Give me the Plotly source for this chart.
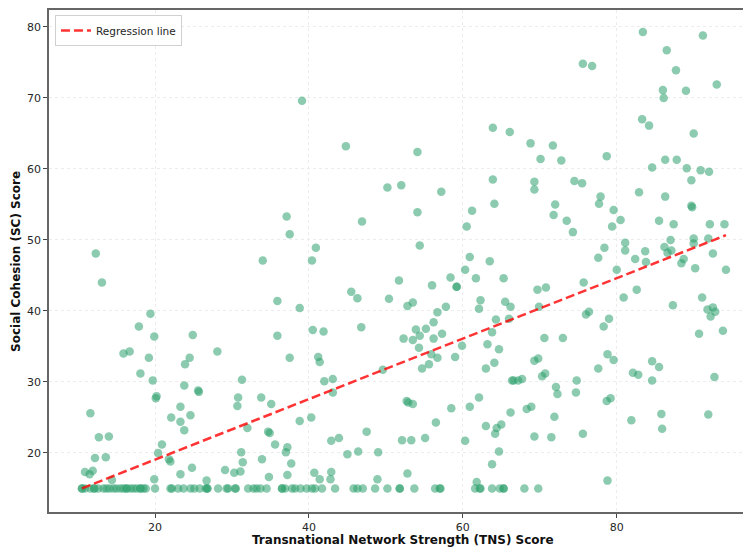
import plotly.graph_objects as go

# (TNS score, SC score) pairs, grouped by region
upper_left = [
    (39.1, 69.6), (44.8, 63.2), (50.2, 57.4), (37.1, 53.3), (37.5, 50.8),
    (46.9, 52.6), (40.9, 48.9),
]

upper_right = [
    (52.0, 57.7), (54.1, 62.4), (57.2, 56.8), (54.1, 53.9), (54.4, 49.2),
    (63.9, 65.8), (66.1, 65.2), (68.8, 63.6), (71.7, 63.3), (70.1, 61.4),
    (72.8, 61.2), (63.9, 58.5), (64.1, 55.1), (69.3, 58.2), (69.3, 57.1),
    (74.5, 58.3), (75.5, 58.0), (78.7, 61.8), (61.2, 54.1), (60.5, 51.9),
    (72.0, 55.0), (71.8, 53.5), (73.5, 52.7), (74.3, 51.1), (77.9, 56.1),
    (77.7, 55.1), (79.6, 54.2), (80.5, 52.8), (79.4, 51.9), (75.6, 74.8),
    (76.8, 74.5), (83.4, 79.3), (91.2, 78.8), (86.5, 76.7), (87.7, 73.9),
    (86.0, 71.1), (86.1, 70.0), (89.0, 71.0), (93.0, 71.9), (83.3, 67.0),
    (84.2, 66.1), (90.0, 65.0), (84.6, 60.2), (86.3, 61.3), (87.8, 61.3),
    (89.1, 60.1), (90.9, 59.8), (92.0, 59.6), (89.7, 58.4), (82.9, 56.7),
    (86.3, 56.1), (89.7, 54.8), (89.8, 54.6), (85.5, 52.7), (87.4, 52.2),
    (92.1, 52.2), (94.0, 52.2), (81.1, 49.6), (81.1, 48.5), (78.4, 48.9),
    (83.7, 48.4), (87.0, 50.0), (90.0, 50.2), (90.0, 49.5), (91.9, 50.2),
    (86.2, 49.0), (87.1, 48.5),
]

lower_left = [
    (12.3, 48.1), (13.1, 44.0), (19.4, 39.6), (17.9, 37.8), (19.9, 36.4),
    (15.9, 34.0), (16.7, 34.3), (19.2, 33.4), (18.1, 31.2), (19.7, 30.2),
    (20.2, 28.0), (20.1, 27.7), (11.6, 25.6), (12.7, 22.2), (14.0, 22.3),
    (12.2, 19.3), (13.6, 19.4), (10.9, 17.3), (11.5, 17.0), (11.9, 17.5),
    (14.4, 16.2), (20.9, 21.2), (20.4, 20.0), (21.8, 19.1), (22.0, 18.8),
    (19.9, 16.3), (24.8, 17.9), (23.3, 17.0), (26.7, 16.1), (24.9, 36.6),
    (24.5, 33.4), (23.9, 32.5), (23.8, 29.5), (25.6, 28.8), (25.7, 28.6),
    (22.1, 25.0), (23.3, 26.5), (24.6, 25.3), (23.3, 24.4), (23.8, 23.2),
    (28.1, 34.3), (31.3, 30.3), (30.8, 27.8), (30.7, 26.6), (32.0, 23.5),
    (31.2, 20.1), (31.4, 18.7), (29.1, 17.6), (30.3, 17.2), (31.1, 17.4),
    (34.0, 47.1), (35.9, 41.4), (35.9, 36.5), (37.5, 33.4), (38.8, 40.4),
    (33.8, 27.8), (35.1, 26.9), (34.7, 23.0), (34.9, 22.8), (35.6, 21.2),
    (37.0, 20.1), (37.2, 20.8), (33.9, 19.1), (37.7, 18.5), (34.8, 16.6),
    (37.2, 16.9), (38.8, 24.5), (40.3, 25.0), (40.4, 47.1), (40.5, 37.3),
    (41.9, 37.1), (41.2, 33.5), (41.4, 32.8), (42.0, 30.1), (43.1, 30.4),
    (43.1, 28.5), (42.9, 21.7), (43.9, 22.1), (40.7, 17.2), (41.4, 16.3),
    (42.9, 17.3), (42.8, 16.3), (45.0, 19.8), (46.4, 20.2), (45.5, 42.7),
    (46.3, 41.8), (46.8, 37.7), (50.4, 41.7), (49.6, 31.7), (47.5, 23.0),
    (49.0, 20.1), (48.9, 16.3),
]

lower_right = [
    (60.9, 47.6), (63.5, 47.0), (60.3, 45.8), (61.7, 44.6), (58.4, 44.7),
    (51.7, 44.3), (56.0, 43.6), (59.2, 43.4), (59.2, 43.4), (65.3, 44.6),
    (52.8, 40.7), (53.5, 41.2), (56.7, 39.8), (57.8, 40.6), (52.3, 36.1),
    (53.5, 35.9), (53.9, 37.4), (54.4, 36.5), (55.2, 37.5), (56.2, 38.4),
    (56.2, 36.1), (57.3, 36.8), (54.3, 34.8), (55.9, 33.9), (56.7, 33.4),
    (55.6, 32.5), (54.7, 31.9), (59.0, 33.5), (59.9, 35.1), (62.3, 41.5),
    (62.1, 40.3), (64.3, 38.8), (63.8, 37.0), (63.2, 35.3), (64.7, 34.6),
    (64.1, 32.7), (63.0, 31.9), (65.5, 41.3), (66.2, 40.6), (66.0, 38.9),
    (69.7, 43.0), (70.8, 43.3), (69.9, 40.6), (70.6, 36.2), (73.0, 36.2),
    (69.3, 33.0), (69.8, 33.3), (70.3, 30.8), (70.7, 31.2), (66.4, 30.2),
    (66.6, 30.2), (67.2, 30.2), (67.7, 30.4), (72.1, 29.3), (72.3, 28.3),
    (74.8, 30.2), (74.7, 28.5), (75.7, 44.0), (76.0, 39.5), (76.4, 39.9),
    (78.3, 37.8), (79.0, 38.9), (78.8, 33.9), (79.6, 33.1), (77.6, 31.9),
    (77.6, 47.5), (80.0, 45.8), (80.9, 41.9), (82.6, 43.0), (82.4, 47.3),
    (83.8, 46.9), (87.3, 40.8), (88.4, 46.7), (88.7, 47.3), (90.2, 46.0),
    (92.5, 48.1), (86.6, 48.2), (94.2, 45.8), (91.1, 41.9), (91.8, 40.2),
    (92.5, 40.5), (92.8, 39.9), (92.2, 39.2), (90.7, 36.8), (93.8, 37.2),
    (92.7, 30.7), (82.1, 31.3), (82.8, 31.0), (84.6, 32.9), (85.5, 32.1),
    (84.6, 30.2), (52.7, 27.3), (52.9, 27.1), (53.5, 26.9), (58.5, 26.3),
    (56.5, 24.3), (52.1, 21.8), (53.3, 21.8), (55.1, 22.1), (60.9, 26.5),
    (62.1, 27.8), (60.3, 21.7), (63.0, 23.8), (64.4, 23.5), (65.0, 24.0),
    (64.2, 22.7), (66.2, 25.7), (68.3, 26.2), (68.9, 26.5), (64.7, 20.2),
    (63.8, 18.4), (69.3, 22.3), (71.5, 22.2), (71.9, 25.1), (75.6, 22.7),
    (78.7, 27.3), (79.2, 27.7), (81.9, 24.6), (85.8, 25.5), (85.9, 23.4),
    (91.9, 25.4), (52.8, 17.1), (78.8, 16.1), (61.8, 15.9),
]

# TNS scores of the points sitting on the SC floor value
floor_tns = [
    10.5, 10.5, 10.9, 11.6, 12.1, 12.1, 12.6, 13.3, 13.7, 14.1, 14.6, 15.0,
    15.5, 15.9, 16.3, 16.3, 16.8, 17.2, 17.6, 18.1, 18.1, 18.5, 18.8, 20.0,
    22.0, 22.2, 23.0, 23.7, 24.6, 25.1, 25.8, 26.6, 26.8, 26.8, 28.2, 29.3,
    29.5, 30.4, 30.5, 32.1, 32.8, 33.2, 33.7, 34.5, 36.5, 36.5, 36.9, 37.8,
    38.2, 38.9, 39.7, 40.4, 40.8, 41.7, 43.4, 45.8, 46.3, 47.0, 48.6, 50.2,
    51.8, 51.8, 53.7, 56.4, 57.0, 57.1, 61.6, 62.2, 62.3, 63.8, 64.8, 65.3,
    65.3, 68.0, 69.8,
]
floor_sc = 15.0

# regression line as drawn in the reference (SC = slope * TNS + intercept)
reg_slope = 0.426
reg_intercept = 10.54

x_ticks = [20, 40, 60, 80]
y_ticks = [20, 30, 40, 50, 60, 70, 80]

pairs = upper_left + upper_right + lower_left + lower_right
tns = [p[0] for p in pairs] + floor_tns
sc = [p[1] for p in pairs] + [floor_sc] * len(floor_tns)

line_x = [min(tns), max(tns)]
line_y = [reg_slope * v + reg_intercept for v in line_x]

fig = go.Figure()
fig.add_trace(go.Scatter(
    x=tns, y=sc, mode="markers", showlegend=False, hoverinfo="skip",
    marker=dict(size=8.5, color="rgba(46,160,110,0.55)", line=dict(width=0)),
))
fig.add_trace(go.Scatter(
    x=line_x, y=line_y, mode="lines", name="Regression line",
    line=dict(color="rgba(255,0,0,0.8)", width=2.5, dash="9px,4px"),
))

fig.update_layout(
    width=735, height=540,
    margin=dict(l=41, r=0, t=0, b=36),
    paper_bgcolor="white", plot_bgcolor="white",
    font=dict(family="DejaVu Sans", color="#262626"),
    legend=dict(x=0.0086, y=0.990, xanchor="left", yanchor="top",
                bgcolor="white", bordercolor="#d0d0d0", borderwidth=1,
                font=dict(size=10.5)),
    annotations=[
        dict(text="<b>Transnational Network Strength (TNS) Score</b>",
             xref="paper", yref="paper", x=0.510, y=-0.0556,
             xanchor="center", yanchor="middle", showarrow=False,
             font=dict(size=12, color="#111")),
        dict(text="<b>Social Cohesion (SC) Score</b>",
             xref="paper", yref="paper", x=-0.0476, y=0.5, textangle=-90,
             xanchor="center", yanchor="middle", showarrow=False,
             font=dict(size=12, color="#111")),
    ],
)
axis_common = dict(
    ticks="outside", ticklen=4, tickwidth=1, tickcolor="#444",
    showline=True, linecolor="#666", linewidth=1.5,
    showgrid=True, gridcolor="#ececec", griddash="dot", gridwidth=1,
    zeroline=False, tickfont=dict(size=11, color="#262626"),
)
fig.update_xaxes(range=[6.22, 96.41], tickvals=x_ticks, mirror=True, **axis_common)
fig.update_yaxes(range=[11.68, 82.385], tickvals=y_ticks, mirror=False, **axis_common)

fig.write_html("out.html")
